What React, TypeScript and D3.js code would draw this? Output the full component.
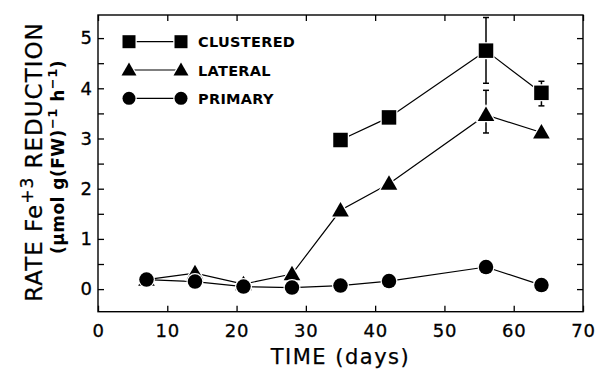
import { useEffect, useRef } from 'react';
import * as d3 from 'd3';

const DAYS = [7, 14, 21, 28, 35, 42, 56, 64];
const CLUSTERED_DAYS = [35, 42, 56, 64];
const CLUSTERED = [2.97, 3.42, 4.75, 3.91];
const LATERAL = [0.19, 0.32, 0.1, 0.3, 1.57, 2.1, 3.47, 3.12];
const PRIMARY = [0.19, 0.15, 0.05, 0.03, 0.07, 0.16, 0.44, 0.08];

// error bars: day, low, high
const ERR_DAYS = [56, 64, 56];
const ERR_LO = [4.1, 3.65, 3.11];
const ERR_HI = [5.41, 4.14, 3.96];

const X_TICKS = [0, 10, 20, 30, 40, 50, 60, 70];
const Y_TICKS = [0, 1, 2, 3, 4, 5];
const Y_MINOR = [0, 0.5, 1, 1.5, 2, 2.5, 3, 3.5, 4, 4.5, 5];

const LEGEND = ['CLUSTERED', 'LATERAL', 'PRIMARY'];

const FONT = '"DejaVu Sans", sans-serif';

type Shape = 'square' | 'triangle' | 'circle';

function markerPath(shape: Shape, s: number) {
  if (shape === 'square') return `M${-s / 2},${-s / 2}h${s}v${s}h${-s}Z`;
  if (shape === 'triangle') {
    const w = s * 1.15;
    return `M${-w / 2},${s * 0.42}L${w / 2},${s * 0.42}L0,${-s * 0.58}Z`;
  }
  const r = s / 2;
  return `M${-r},0a${r},${r} 0 1,0 ${2 * r},0a${r},${r} 0 1,0 ${-2 * r},0Z`;
}

export default function App() {
  const svgRef = useRef<SVGSVGElement>(null);

  useEffect(() => {
    document.body.style.margin = '0';
    if (!svgRef.current) return;
    const svg = d3.select(svgRef.current);
    svg.selectAll('*').remove();

    const x = d3.scaleLinear().domain([0, 70]).range([98, 583]);
    const y = d3.scaleLinear().domain([-0.45, 5.46]).range([311.7, 15]);
    const [left, right] = x.range();
    const [bottom, top] = y.range();

    const styleLabels = (sel: any) => sel
      .attr('fill', '#000').attr('font-size', 18).attr('font-family', FONT)
      .attr('stroke', '#000').attr('stroke-width', 0.3).attr('letter-spacing', 0.8);

    // bottom axis
    svg.append('g')
      .attr('transform', `translate(0,${bottom})`)
      .call(d3.axisBottom(x).tickValues(X_TICKS).tickSize(-6).tickPadding(13).tickFormat(d3.format('d')))
      .call(g => g.select('.domain').remove())
      .call(g => g.selectAll('.tick line').attr('stroke', '#000').attr('stroke-width', 1.3))
      .call(g => styleLabels(g.selectAll('.tick text')));

    // top axis ticks
    svg.append('g')
      .attr('transform', `translate(0,${top})`)
      .call(d3.axisTop(x).tickValues(X_TICKS).tickSize(-6).tickFormat(() => ''))
      .call(g => g.select('.domain').remove())
      .call(g => g.selectAll('.tick line').attr('stroke', '#000').attr('stroke-width', 1.3));

    // left axis
    svg.append('g')
      .attr('transform', `translate(${left},0)`)
      .call(d3.axisLeft(y).tickValues(Y_MINOR).tickSize(-6).tickFormat(() => ''))
      .call(g => g.select('.domain').remove())
      .call(g => g.selectAll('.tick line').attr('stroke', '#000').attr('stroke-width', 1.3));
    svg.append('g')
      .attr('transform', `translate(${left},0)`)
      .call(d3.axisLeft(y).tickValues(Y_TICKS).tickSize(0).tickPadding(6).tickFormat(d3.format('d')))
      .call(g => g.select('.domain').remove())
      .call(g => styleLabels(g.selectAll('.tick text')).attr('letter-spacing', 0));

    // right axis
    svg.append('g')
      .attr('transform', `translate(${right},0)`)
      .call(d3.axisRight(y).tickValues(Y_MINOR).tickSize(-6).tickFormat(() => ''))
      .call(g => g.select('.domain').remove())
      .call(g => g.selectAll('.tick line').attr('stroke', '#000').attr('stroke-width', 1.3));

    // frame
    svg.append('rect')
      .attr('x', left).attr('y', top)
      .attr('width', right - left).attr('height', bottom - top)
      .attr('fill', 'none').attr('stroke', '#000').attr('stroke-width', 1.4);

    const series: { shape: Shape; days: number[]; values: number[] }[] = [
      { shape: 'square', days: CLUSTERED_DAYS, values: CLUSTERED },
      { shape: 'triangle', days: DAYS, values: LATERAL },
      { shape: 'circle', days: DAYS, values: PRIMARY },
    ];

    const line = d3.line<[number, number]>().x(d => x(d[0])).y(d => y(d[1]));

    // error bars
    ERR_DAYS.forEach((day, i) => {
      const g = svg.append('g').attr('stroke', '#000').attr('stroke-width', 1.5);
      g.append('line').attr('x1', x(day)).attr('x2', x(day)).attr('y1', y(ERR_LO[i])).attr('y2', y(ERR_HI[i]));
      [ERR_LO[i], ERR_HI[i]].forEach(v => {
        g.append('line').attr('x1', x(day) - 3).attr('x2', x(day) + 3).attr('y1', y(v)).attr('y2', y(v));
      });
    });

    series.forEach(s => {
      const pts = s.days.map((d, i) => [d, s.values[i]] as [number, number]);
      svg.append('path').datum(pts)
        .attr('d', line)
        .attr('fill', 'none').attr('stroke', '#000').attr('stroke-width', 1.2);
    });

    series.forEach(s => {
      svg.append('g').selectAll('path')
        .data(s.days.map((d, i) => [d, s.values[i]]))
        .join('path')
        .attr('transform', d => `translate(${x(d[0])},${y(d[1])})`)
        .attr('d', markerPath(s.shape, 14.5))
        .attr('fill', '#000')
        .attr('stroke', '#fff').attr('stroke-width', 2.5)
        .attr('paint-order', 'stroke');
    });

    // legend
    const legendY = [41.7, 70, 98.3];
    series.forEach((s, i) => {
      const g = svg.append('g').attr('transform', `translate(0,${legendY[i]})`);
      g.append('line').attr('x1', 130).attr('x2', 180).attr('y1', 0).attr('y2', 0)
        .attr('stroke', '#000').attr('stroke-width', 1.2);
      [129, 181].forEach(cx => {
        g.append('path').attr('transform', `translate(${cx},0)`)
          .attr('d', markerPath(s.shape, 13))
          .attr('fill', '#000').attr('stroke', '#fff').attr('stroke-width', 2.5)
          .attr('paint-order', 'stroke');
      });
      g.append('text').attr('x', 198).attr('y', 5.5)
        .attr('font-family', FONT).attr('font-weight', 'bold').attr('font-size', 14.5)
        .attr('letter-spacing', 0.3)
        .text(LEGEND[i]);
    });

    // x title
    svg.append('text')
      .attr('x', (left + right) / 2).attr('y', 364)
      .attr('text-anchor', 'middle').attr('font-family', FONT).attr('font-size', 21)
      .attr('letter-spacing', 1.5).attr('stroke', '#000').attr('stroke-width', 0.25)
      .text('TIME (days)');

    // y title
    const t1 = svg.append('text')
      .attr('transform', 'translate(42,162) rotate(-90)')
      .attr('text-anchor', 'middle').attr('font-family', FONT).attr('font-size', 23)
      .attr('letter-spacing', 1).attr('stroke', '#000').attr('stroke-width', 0.25);
    t1.append('tspan').text('RATE Fe');
    t1.append('tspan').attr('font-size', 17).attr('dy', -9).text('+3');
    t1.append('tspan').attr('dy', 9).text(' REDUCTION');

    const t2 = svg.append('text')
      .attr('transform', 'translate(64,157) rotate(-90)')
      .attr('text-anchor', 'middle').attr('font-family', FONT).attr('font-weight', 'bold').attr('font-size', 17)
      .attr('letter-spacing', 0.5);
    t2.append('tspan').text('(μmol g(FW)');
    t2.append('tspan').attr('font-size', 13).attr('dy', -7).text('−1');
    t2.append('tspan').attr('dy', 7).text(' h');
    t2.append('tspan').attr('font-size', 13).attr('dy', -7).text('−1');
    t2.append('tspan').attr('dy', 7).text(')');
  }, []);

  return <svg ref={svgRef} width={599} height={375} style={{ display: 'block', background: '#fff' }} />;
}
